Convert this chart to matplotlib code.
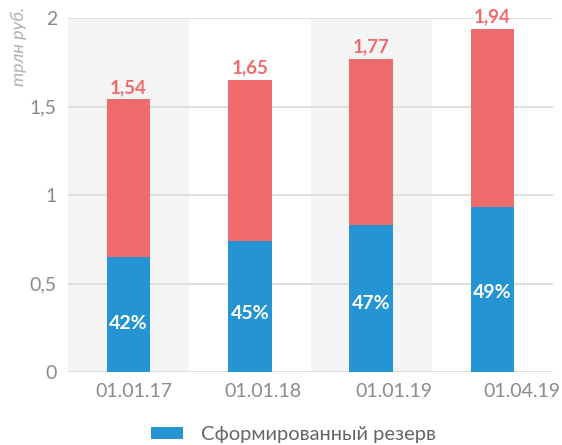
import matplotlib.pyplot as plt

dates = ["01.01.17", "01.01.18", "01.01.19", "01.04.19"]
reserve = [0.65, 0.74, 0.83, 0.93]
total = [1.54, 1.65, 1.77, 1.94]
share = ["42%", "45%", "47%", "49%"]
total_labels = ["1,54", "1,65", "1,77", "1,94"]

blue = "#2594d2"
red = "#ee6c6c"
grey_txt = "#8a8a8a"

plt.rcParams['font.family'] = ['Lato', 'DejaVu Sans']

fig = plt.figure(figsize=(5.62, 4.45), dpi=100)
ax = fig.add_axes([0.121, 0.164, 0.863, 0.7955])

x = list(range(len(dates)))
rest = [t - r for t, r in zip(total, reserve)]

# alternating background bands
for i in x[::2]:
    ax.axvspan(i - 0.5, i + 0.5, ymin=0, ymax=1, color="#f4f4f4", zorder=0, lw=0)

for yv in [0, 0.5, 1, 1.5, 2]:
    ax.axhline(yv, color="#dcdcdc", lw=1.3, zorder=1)

ax.bar(x, reserve, width=0.36, color=blue, zorder=2, label="Сформированный резерв")
ax.bar(x, rest, bottom=reserve, width=0.36, color=red, zorder=2, label="_rest")

for i in x:
    ax.text(i, total[i] + 0.02, total_labels[i], ha="center", va="bottom",
            color=red, fontsize=13.5, fontweight="bold")
    ax.text(i, reserve[i] * 0.5 - 0.05 + 0.012 * i, share[i], ha="center", va="center",
            color="white", fontsize=14, fontweight="bold")

ax.set_xlim(-0.5, 3.5)
ax.set_ylim(0, 2)
ax.set_yticks([0, 0.5, 1, 1.5, 2])
ax.set_yticklabels(["0", "0,5", "1", "1,5", "2"])
ax.set_xticks([0.04, 1.11, 2.19, 3.24])
ax.set_xticklabels(dates)
ax.tick_params(length=0, colors=grey_txt, labelsize=14)
ax.tick_params(axis="y", pad=8)
ax.tick_params(axis="x", pad=8)
for s in ax.spines.values():
    s.set_visible(False)

fig.text(0.034, 0.985, "трлн руб.", rotation=90, ha="center", va="top",
         style="italic", color="#b0b0b0", fontsize=13)

fig.legend(loc="lower left", bbox_to_anchor=(0.236, -0.036), frameon=False,
           fontsize=14.5, handlelength=1.6, handleheight=0.55, handletextpad=0.9,
           labelcolor="#666666")

fig.savefig("out.png", dpi=100)
